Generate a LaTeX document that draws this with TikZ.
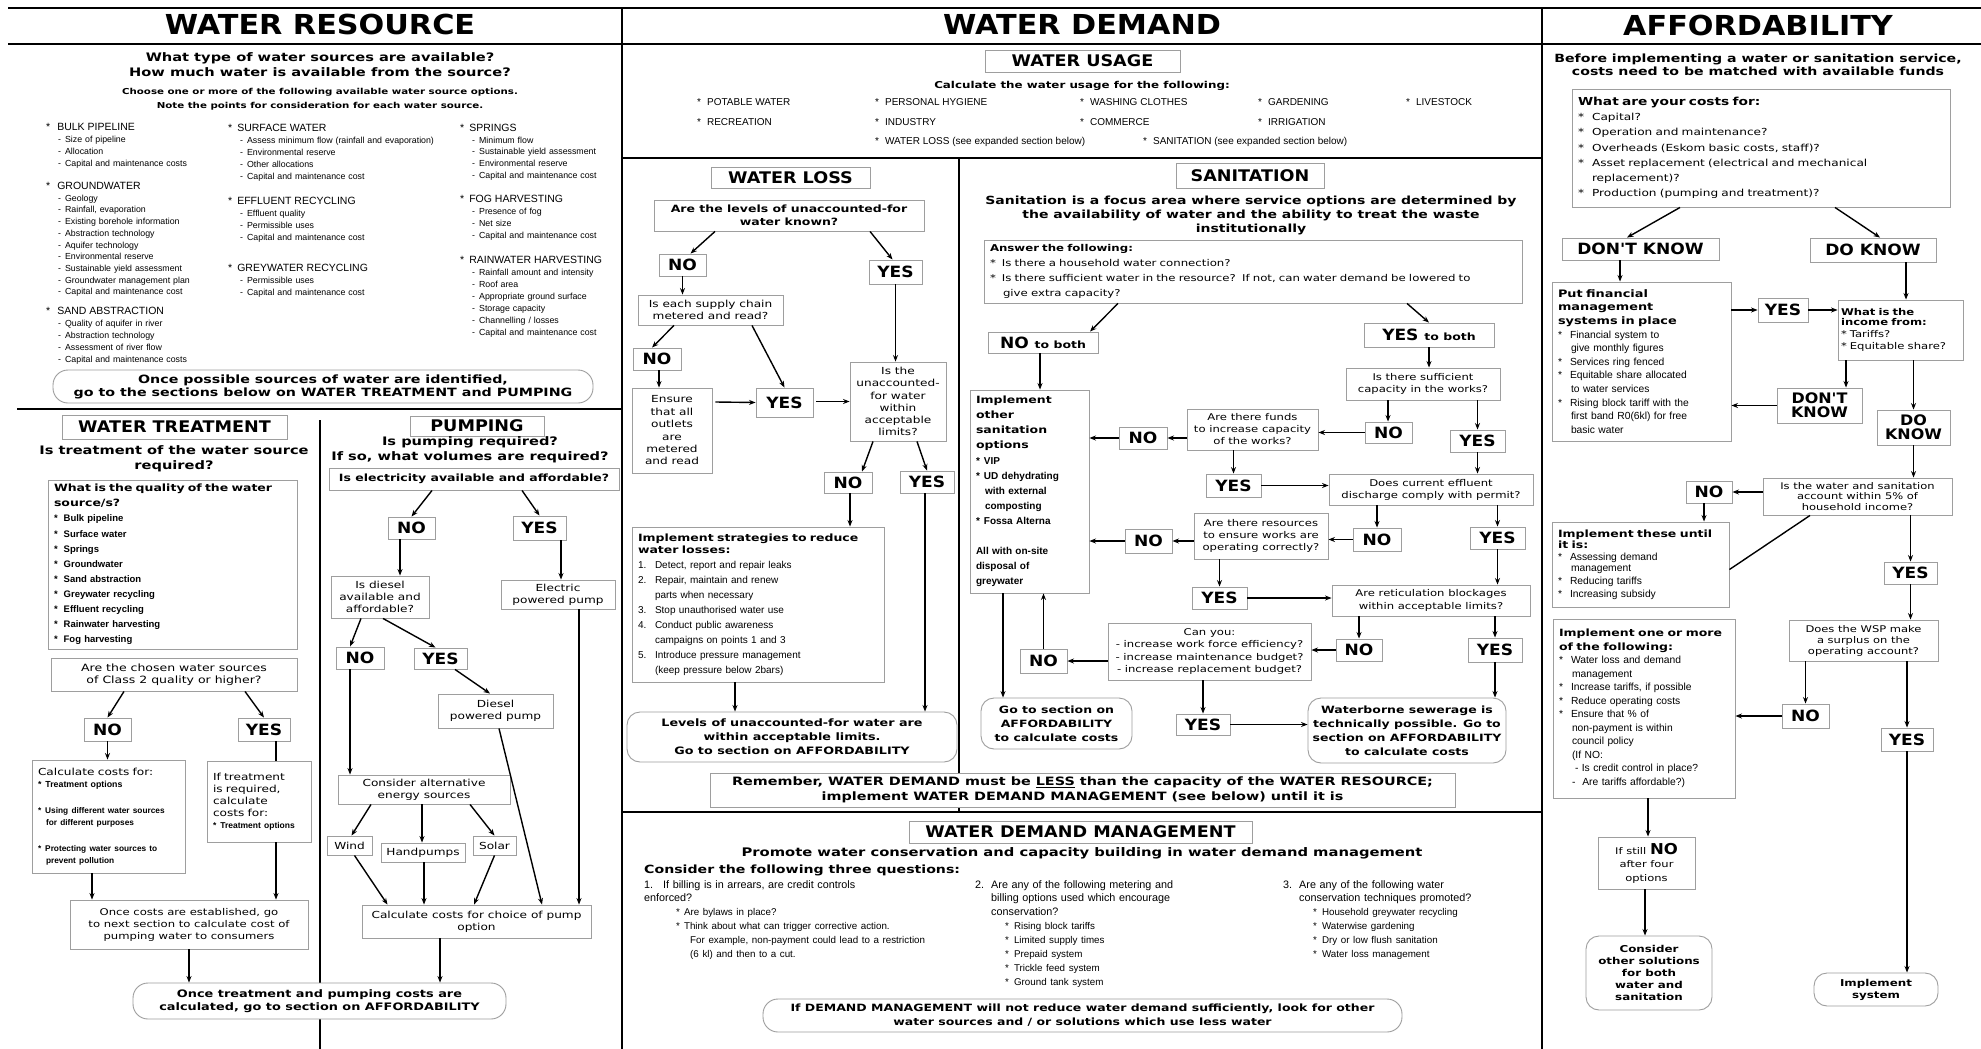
\documentclass[tikz,border=0pt]{standalone}
\usepackage{fontspec}
\setmainfont{Liberation Sans}
\newfontfamily\vdw{DejaVu Sans}[FakeStretch=1.25]
\newfontfamily\vdt{DejaVu Sans}[FakeStretch=1.1]
\usetikzlibrary{arrows.meta}
\definecolor{boxgray}{gray}{0.62}
\newcommand{\fs}[2]{\fontsize{#1}{#2}\selectfont}
% a box given by two corners (x1,y1) (x2,y2)
\newcommand{\bx}[7][]{%
  \pgfmathsetlengthmacro{\bxw}{(#5)-(#3)}%
  \pgfmathsetlengthmacro{\bxh}{(#6)-(#4)}%
  \pgfmathsetlengthmacro{\bxtw}{(#5)-(#3)-12}%
  \pgfmathsetlengthmacro{\bxtn}{(#5)-(#3)-6}%
  \node[box,minimum width=\bxw,minimum height=\bxh,#1] (#2)
    at ({((#3)+(#5))/2},{((#4)+(#6))/2}) {#7};}
\newcommand{\dsh}{\hspace*{12pt}-\hspace{4pt}}
\newcommand{\bu}[1][6pt]{*\hspace{#1}}
\tikzset{
  box/.style={draw=boxgray,line width=0.9pt,fill=white,inner sep=1pt,align=center,
              font=\vdw\fs{9.7}{12}},
  lbox/.style={box,align=left,text width=\bxtw,inner xsep=6pt},
  lboxn/.style={box,align=left,text width=\bxtn,inner xsep=3pt},
  rbox/.style={box,rounded corners=13pt,font=\vdw\bfseries\fs{10}{14}},
  btitle/.style={box,inner sep=0pt,font=\vdt\bfseries\fs{16}{18}},
  yn/.style={box,inner sep=0pt,font=\vdt\bfseries\fs{15.5}{16}},
  yn2/.style={box,inner sep=0pt,font=\vdt\bfseries\fs{14.5}{14}},
  ttl/.style={inner sep=0pt,font=\vdt\bfseries\fs{27.5}{30}},
  subq/.style={inner sep=0pt,align=center,font=\vdw\bfseries\fs{11.7}{15}},
  lst/.style={anchor=north west,inner sep=0pt,text width=220pt,align=left,font=\fs{8.8}{12}},
  usg/.style={anchor=west,inner sep=0pt,font=\fs{10}{12}},
  col/.style={anchor=north west,inner sep=0pt,text width=330pt,align=left,font=\fs{10.8}{13.9}},
  sec/.style={line width=2.2pt},
  arr/.style={line width=1.4pt,-{Stealth[length=6.5pt,width=5pt]}},
  ln/.style={line width=1.4pt},
}
\begin{document}
\begin{tikzpicture}[x=1pt,y=-1pt]
\useasboundingbox (0,0) rectangle (1981,1049);
\fill[white] (0,0) rectangle (1981,1049);

% ---------- frame ----------
\draw[sec] (8,8) -- (1981,8);
\draw[sec] (8,44) -- (1981,44);
\draw[sec] (622,8) -- (622,1049);
\draw[sec] (1542,8) -- (1542,1049);
\draw[sec] (17,409) -- (622,409);
\draw[sec] (622,158) -- (1542,158);
\draw[sec] (622,812) -- (1542,812);
\draw[sec] (959,158) -- (959,812);
\draw[sec] (320,420) -- (320,1049);

\node[ttl] (tres) at (320,24) {WATER RESOURCE};
\node[ttl] (tdem) at (1082,24) {WATER DEMAND};
\node[ttl] (taff) at (1758,25) {AFFORDABILITY};

% ---------- water resource ----------
\node[subq] (wrq) at (320,65) {What type of water sources are available?\\How much water is available from the source?};
\node[inner sep=0pt,align=center,font=\vdw\bfseries\fs{8.2}{14}] (wrc) at (320,99)
  {Choose one or more of the following available water source options.\\Note the points for consideration for each water source.};

\node[lst] (g1) at (46,123) {{\fs{10.5}{12}\bu[7pt]BULK PIPELINE}\\\dsh Size of pipeline\\\dsh Allocation\\\dsh Capital and maintenance costs};
\node[lst,font=\fs{8.8}{11.7}] (g2) at (46,182) {{\fs{10.5}{12}\bu[7pt]GROUNDWATER}\\\dsh Geology\\\dsh Rainfall, evaporation\\\dsh Existing borehole information\\\dsh Abstraction technology\\\dsh Aquifer technology\\\dsh Environmental reserve\\\dsh Sustainable yield assessment\\\dsh Groundwater management plan\\\dsh Capital and maintenance cost};
\node[lst] (g3) at (46,307) {{\fs{10.5}{12}\bu[7pt]SAND ABSTRACTION}\\\dsh Quality of aquifer in river\\\dsh Abstraction technology\\\dsh Assessment of river flow\\\dsh Capital and maintenance costs};
\node[lst] (g4) at (228,124) {{\fs{10.5}{12}\bu[5pt]SURFACE WATER}\\\dsh Assess minimum flow (rainfall and evaporation)\\\dsh Environmental reserve\\\dsh Other allocations\\\dsh Capital and maintenance cost};
\node[lst] (g5) at (228,197) {{\fs{10.5}{12}\bu[5pt]EFFLUENT RECYCLING}\\\dsh Effluent quality\\\dsh Permissible uses\\\dsh Capital and maintenance cost};
\node[lst] (g6) at (228,264) {{\fs{10.5}{12}\bu[5pt]GREYWATER RECYCLING}\\\dsh Permissible uses\\\dsh Capital and maintenance cost};
\node[lst,font=\fs{8.8}{11.7}] (g7) at (460,124) {{\fs{10.5}{12}\bu[5pt]SPRINGS}\\\dsh Minimum flow\\\dsh Sustainable yield assessment\\\dsh Environmental reserve\\\dsh Capital and maintenance cost};
\node[lst] (g8) at (460,195) {{\fs{10.5}{12}\bu[5pt]FOG HARVESTING}\\\dsh Presence of fog\\\dsh Net size\\\dsh Capital and maintenance cost};
\node[lst] (g9) at (460,256) {{\fs{10.5}{12}\bu[5pt]RAINWATER HARVESTING}\\\dsh Rainfall amount and intensity\\\dsh Roof area\\\dsh Appropriate ground surface\\\dsh Storage capacity\\\dsh Channelling / losses\\\dsh Capital and maintenance cost};

\bx[rbox,rounded corners=15pt,font=\vdw\bfseries\fs{11.4}{13}]{wrgo}{53}{370}{593}{403}{Once possible sources of water are identified,\\go to the sections below on WATER TREATMENT and PUMPING}

% ---------- water treatment ----------
\bx[btitle]{wt}{62}{415}{287}{439}{WATER TREATMENT}
\node[subq] (wtq) at (174,459) {Is treatment of the water source\\required?};
\bx[lbox,font=\bfseries\fs{9.5}{15.1}]{wtqual}{48}{480}{297}{649}{{\vdw\fs{10}{14}What is the quality of the water\\source/s?}\\\bu Bulk pipeline\\\bu Surface water\\\bu Springs\\\bu Groundwater\\\bu Sand abstraction\\\bu Greywater recycling\\\bu Effluent recycling\\\bu Rainwater harvesting\\\bu Fog harvesting}
\bx[font=\vdw\fs{10}{12}]{wtc2}{51}{658}{297}{691}{Are the chosen water sources\\of Class 2 quality or higher?}
\bx[yn]{tno}{84}{718}{131}{741}{NO}
\bx[yn]{tyes}{238}{718}{290}{741}{YES}
\bx[lbox]{tcalc}{32}{760}{185}{873}{Calculate costs for:\\{\rmfamily\bfseries\fs{8.8}{12}\bu[4pt]Treatment options}\\[14pt]{\rmfamily\bfseries\fs{8.3}{12}\bu[4pt]Using different water sources\\\hspace*{8pt}for different purposes}\\[14pt]{\rmfamily\bfseries\fs{8.3}{12}\bu[4pt]Protecting water sources to\\\hspace*{8pt}prevent pollution}}
\bx[lbox]{tif}{207}{761}{311}{842}{If treatment\\is required,\\calculate\\costs for:\\{\rmfamily\bfseries\fs{8.5}{12}\bu[4pt]Treatment options}}
\bx[font=\vdw\fs{9.3}{12}]{tonce}{70}{900}{308}{949}{Once costs are established, go\\to next section to calculate cost of\\pumping water to consumers}
\bx[rbox,rounded corners=15pt,font=\vdw\bfseries\fs{10.3}{13}]{fin}{133}{983}{506}{1019}{Once treatment and pumping costs are\\calculated, go to section on AFFORDABILITY}

\draw[arr] ([xshift=-50]wtc2.south) -- (tno.north);
\draw[arr] ([xshift=71]wtc2.south) -- (tyes.north);
\draw[arr] (tno.south) -- ([xshift=-1]tcalc.north);
\draw[ln]  ([xshift=12]tyes.south) -- ([xshift=17]tif.north);
\draw[arr] ([xshift=-16.5]tcalc.south) -- ([xshift=-97]tonce.north);
\draw[arr] ([xshift=17]tif.south) -- ([xshift=87]tonce.north);
\draw[arr] (tonce.south) -- ([xshift=-130.5]fin.north);

% ---------- pumping ----------
\bx[btitle]{pt}{410}{416}{544}{436}{PUMPING}
\node[subq] (ptq) at (470,450) {Is pumping required?\\If so, what volumes are required?};
\bx[font=\vdw\bfseries\fs{10}{12}]{pe}{329}{468}{619}{490}{Is electricity available and affordable?}
\bx[yn]{pno}{388}{517}{435}{539}{NO}
\bx[yn]{pyes}{513}{516}{566}{540}{YES}
\bx{pd}{331}{576}{429}{618}{Is diesel\\available and\\affordable?}
\bx{pel}{501}{580}{615}{609}{Electric\\powered pump}
\bx[yn]{pdno}{336}{647}{384}{669}{NO}
\bx[yn]{pdyes}{414}{648}{467}{669}{YES}
\bx{pdp}{438}{694}{553}{728}{Diesel\\powered pump}
\bx{pcons}{338}{775}{510}{804}{Consider alternative\\energy sources}
\bx{pw}{327}{836}{372}{855}{Wind}
\bx{ph}{381}{843}{465}{862}{Handpumps}
\bx{ps}{473}{836}{516}{855}{Solar}
\bx{pcalc}{362}{905}{591}{938}{Calculate costs for choice of pump\\option}

\draw[arr] ([xshift=-42]pe.south) -- (pno.north);
\draw[arr] ([xshift=48]pe.south) -- (pyes.north);
\draw[arr] ([xshift=-11.5]pno.south) -- ([xshift=20]pd.north);
\draw[arr] ([xshift=21.5]pyes.south) -- ([xshift=3]pel.north);
\draw[arr] ([xshift=-19]pd.south) -- ([xshift=-10]pdno.north);
\draw[arr] ([xshift=3]pd.south) -- ([xshift=-5]pdyes.north);
\draw[arr] ([xshift=14.5]pdyes.south) -- ([xshift=-5.5]pdp.north);
\draw[arr] ([xshift=-10]pdno.south) -- ([xshift=-74]pcons.north);
\draw[arr] ([xshift=-53]pcons.south) -- ([xshift=2]pw.north);
\draw[arr] ([xshift=-2]pcons.south) -- ([xshift=-1]ph.north);
\draw[arr] ([xshift=46]pcons.south) -- (ps.north);
\draw[arr] ([xshift=5]pw.south) -- ([xshift=-89]pcalc.north);
\draw[arr] ([xshift=1]ph.south) -- ([xshift=-52.5]pcalc.north);
\draw[arr] (ps.south) -- ([xshift=-2.5]pcalc.north);
\draw[arr] ([xshift=3.5]pdp.south) -- ([xshift=65.5]pcalc.north);
\draw[arr] ([xshift=21]pel.south) -- ([xshift=102.5]pcalc.north);
\draw[arr] ([xshift=-36.5]pcalc.south) -- ([xshift=120.5]fin.north);

% ---------- water usage ----------
\bx[btitle]{wu}{985}{50}{1180}{72}{WATER USAGE}
\node[inner sep=0pt,font=\vdw\bfseries\fs{9.5}{12}] (wuq) at (1082,86) {Calculate the water usage for the following:};
\node[usg] (u1) at (697,102) {\bu POTABLE WATER};
\node[usg] (u2) at (875,102) {\bu PERSONAL HYGIENE};
\node[usg] (u3) at (1080,102) {\bu WASHING CLOTHES};
\node[usg] (u4) at (1258,102) {\bu GARDENING};
\node[usg] (u5) at (1406,102) {\bu LIVESTOCK};
\node[usg] (u6) at (697,122) {\bu RECREATION};
\node[usg] (u7) at (875,122) {\bu INDUSTRY};
\node[usg] (u8) at (1080,122) {\bu COMMERCE};
\node[usg] (u9) at (1258,122) {\bu IRRIGATION};
\node[usg] (u10) at (875,142) {\bu WATER LOSS (see expanded section below)};
\node[usg] (u11) at (1143,142) {\bu SANITATION (see expanded section below)};

% ---------- water loss ----------
\bx[btitle]{wl}{711}{167}{870}{188}{WATER LOSS}
\bx[font=\vdw\bfseries\fs{10}{13}]{wlq}{654}{200}{924}{231}{Are the levels of unaccounted-for\\water known?}
\bx[yn]{wlno}{659}{254}{706}{276}{NO}
\bx[yn]{wlyes}{869}{260}{922}{284}{YES}
\bx{wlsc}{638}{295}{783}{325}{Is each supply chain\\metered and read?}
\bx[yn]{wlno2}{633}{348}{681}{370}{NO}
\bx[yn]{wlyes2}{756}{388}{813}{417}{YES}
\bx[font=\vdw\fs{9.7}{12.4}]{wlen}{632}{388}{712}{473}{Ensure\\that all\\outlets\\are\\metered\\and read}
\bx[font=\vdw\fs{9.7}{12.2}]{wllim}{850}{362}{946}{441}{Is the\\unaccounted-\\for water\\within\\acceptable\\limits?}
\bx[yn]{wlno3}{824}{472}{872}{493}{NO}
\bx[yn]{wlyes3}{900}{471}{954}{493}{YES}
\bx[lbox,font=\fs{10}{15}]{wlimp}{632}{527}{884}{682}{{\vdw\bfseries Implement strategies to reduce\\[-3pt]water losses:}\\\makebox[17pt][l]{1.}Detect, report and repair leaks\\\makebox[17pt][l]{2.}Repair, maintain and renew\\\hspace*{17pt}parts when necessary\\\makebox[17pt][l]{3.}Stop unauthorised water use\\\makebox[17pt][l]{4.}Conduct public awareness\\\hspace*{17pt}campaigns on points 1 and 3\\\makebox[17pt][l]{5.}Introduce pressure management\\\hspace*{17pt}(keep pressure below 2bars)}
\bx[rbox,font=\vdw\bfseries\fs{10.2}{14}]{wllev}{627}{712}{957}{762}{Levels of unaccounted-for water are\\within acceptable limits.\\Go to section on AFFORDABILITY}

\draw[arr] ([xshift=-74]wlq.south) -- ([xshift=8]wlno.north);
\draw[arr] ([xshift=81]wlq.south) -- ([xshift=-3]wlyes.north);
\draw[arr] (wlno.south) -- ([xshift=-28]wlsc.north);
\draw[arr] ([xshift=-36.5]wlsc.south) -- ([xshift=-5]wlno2.north);
\draw[arr] ([xshift=41.5]wlsc.south) -- (wlyes2.north);
\draw[arr] ([xshift=2]wlno2.south) -- ([xshift=-13]wlen.north);
\draw[arr] ([xshift=3,yshift=28.5]wlen.east) -- (wlyes2.west);
\draw[arr] ([xshift=3,yshift=1]wlyes2.east) -- (wllim.west);
\draw[arr] (wlyes.south) -- ([xshift=-2.5]wllim.north);
\draw[arr] ([xshift=-25]wllim.south) -- ([xshift=14]wlno3.north);
\draw[arr] ([xshift=19]wllim.south) -- (wlyes3.north);
\draw[arr] ([xshift=2]wlno3.south) -- ([xshift=92]wlimp.north);
\draw[arr] ([xshift=-23]wlimp.south) -- ([xshift=-57]wllev.north);
\draw[arr] ([xshift=-2]wlyes3.south) -- ([xshift=133]wllev.north);

\bx[font=\vdw\bfseries\fs{11.5}{15}]{rem}{710}{773}{1455}{807}{Remember, WATER DEMAND must be \underline{LESS} than the capacity of the WATER RESOURCE;\\implement WATER DEMAND MANAGEMENT (see below) until it is}

% ---------- sanitation ----------
\bx[btitle]{san}{1176}{163}{1324}{188}{SANITATION}
\node[inner sep=0pt,align=center,font=\vdw\bfseries\fs{11.2}{14}] (sanq) at (1251,215)
  {Sanitation is a focus area where service options are determined by\\the availability of water and the ability to treat the waste\\institutionally};
\bx[lbox,font=\vdw\fs{9.4}{15}]{ans}{984}{240}{1522}{303}{{\bfseries Answer the following:}\\\bu Is there a household water connection?\\\bu Is there sufficient water in the resource?\ \ If not, can water demand be lowered to\\\hspace*{13pt}give extra capacity?}
\bx[yn]{nob}{988}{332}{1098}{353}{NO {\vdw\fs{10}{12}to both}}
\bx[yn]{yesb}{1364}{323}{1494}{347}{YES {\vdw\fs{10}{12}to both}}
\bx[lbox,font=\rmfamily\bfseries\fs{10}{15.1},inner xsep=5pt]{sio}{970}{390}{1089}{593}{{\vdw Implement\\other\\sanitation\\options}\\\bu[4pt]VIP\\\bu[4pt]UD dehydrating\\\hspace*{9pt}with external\\\hspace*{9pt}composting\\\bu[4pt]Fossa Alterna\\[15pt]All with on-site\\disposal of\\greywater}
\bx[font=\vdw\fs{9.3}{12}]{scap}{1346}{368}{1500}{400}{Is there sufficient\\capacity in the works?}
\bx[yn]{scno}{1365}{422}{1412}{443}{NO}
\bx[yn]{scyes}{1450}{430}{1505}{452}{YES}
\bx[font=\vdw\fs{9.3}{12}]{sfund}{1187}{409}{1318}{450}{Are there funds\\to increase capacity\\of the works?}
\bx[yn]{sfno}{1119}{427}{1167}{449}{NO}
\bx[yn]{sfyes}{1206}{474}{1261}{497}{YES}
\bx[font=\vdw\fs{9.3}{12}]{seff}{1329}{474}{1533}{505}{Does current effluent\\discharge comply with permit?}
\bx[yn]{seno}{1353}{528}{1401}{551}{NO}
\bx[yn]{seyes}{1470}{527}{1525}{549}{YES}
\bx[font=\vdw\fs{9.3}{12}]{sres}{1194}{513}{1328}{559}{Are there resources\\to ensure works are\\operating correctly?}
\bx[yn]{srno}{1125}{529}{1172}{553}{NO}
\bx[yn]{sryes}{1192}{587}{1247}{609}{YES}
\bx[font=\vdw\fs{9.3}{12.5}]{sret}{1332}{585}{1530}{616}{Are reticulation blockages\\within acceptable limits?}
\bx[yn]{rtno}{1336}{639}{1382}{661}{NO}
\bx[yn]{rtyes}{1468}{638}{1522}{662}{YES}
\bx[font=\vdw\fs{9.3}{12.3}]{scan}{1108}{623}{1311}{680}{Can you:\\- increase work force efficiency?\\- increase maintenance budget?\\- increase replacement budget?}
\bx[yn]{scnno}{1020}{649}{1067}{673}{NO}
\bx[rbox]{sgo}{981}{698}{1132}{749}{Go to section on\\AFFORDABILITY\\to calculate costs}
\bx[yn]{scnyes}{1176}{714}{1230}{735}{YES}
\bx[rbox]{swb}{1308}{698}{1506}{763}{Waterborne sewerage is\\technically possible. Go to\\section on AFFORDABILITY\\to calculate costs}

\draw[arr] ([xshift=-135]ans.south) -- ([xshift=47]nob.north);
\draw[arr] ([xshift=154]ans.south) -- (yesb.north);
\draw[arr] ([xshift=-3]nob.south) -- ([xshift=10.5]sio.north);
\draw[arr] (yesb.south) -- ([xshift=6]scap.north);
\draw[arr] ([xshift=-35]scap.south) -- ([xshift=-0.5]scno.north);
\draw[arr] ([xshift=54.5]scap.south) -- (scyes.north);
\draw[arr] (scno.west) -- ([yshift=-3]sfund.east);
\draw[arr] ([yshift=-8.5]sfund.west) -- (sfno.east);
\draw[arr] (sfno.west) -- ([yshift=53.5]sio.east);
\draw[arr] ([xshift=-19]sfund.south) -- (sfyes.north);
\draw[arr] (sfyes.east) -- ([yshift=4]seff.west);
\draw[arr] (scyes.south) -- ([xshift=46.5]seff.north);
\draw[arr] ([xshift=-54]seff.south) -- (seno.north);
\draw[arr] ([xshift=66.5]seff.south) -- (seyes.north);
\draw[arr] (seno.west) -- ([yshift=-3.5]sres.east);
\draw[arr] ([yshift=-5]sres.west) -- (srno.east);
\draw[arr] (srno.west) -- ([yshift=-49.5]sio.east);
\draw[arr] ([xshift=-41.5]sres.south) -- (sryes.north);
\draw[arr] (sryes.east) -- ([yshift=2.5]sret.west);
\draw[arr] (seyes.south) -- ([xshift=66.5]sret.north);
\draw[arr] ([xshift=-72]sret.south) -- (rtno.north);
\draw[arr] ([xshift=64]sret.south) -- (rtyes.north);
\draw[arr] (rtno.west) -- ([yshift=1.5]scan.east);
\draw[arr] ([yshift=-9.5]scan.west) -- (scnno.east);
\draw[arr] (scnno.north) -- ([xshift=14]sio.south);
\draw[arr] ([xshift=-26.5]sio.south) -- ([xshift=-53.5]sgo.north);
\draw[arr] ([xshift=-6.5]scan.south) -- (scnyes.north);
\draw[arr] (scnyes.east) -- ([yshift=6]swb.west);
\draw[arr] (rtyes.south) -- ([xshift=88]swb.north);

% ---------- water demand management ----------
\bx[btitle]{wdm}{909}{821}{1252}{843}{WATER DEMAND MANAGEMENT}
\node[inner sep=0pt,font=\vdw\bfseries\fs{11.8}{14}] (wdmq) at (1082,853) {Promote water conservation and capacity building in water demand management};
\node[anchor=west,inner sep=0pt,font=\vdw\bfseries\fs{11.3}{14}] (wdmc) at (644,870) {Consider the following three questions:};
\node[col] (wq1) at (644,880) {\makebox[19pt][l]{1.}If billing is in arrears, are credit controls\\enforced?\\{\fs{9.8}{13.9}\hspace*{32pt}\bu[4pt]Are bylaws in place?\\\hspace*{32pt}\bu[4pt]Think about what can trigger corrective action.\\\hspace*{46pt}For example, non-payment could lead to a restriction\\\hspace*{46pt}(6 kl) and then to a cut.}};
\node[col] (wq2) at (975,880) {\makebox[16pt][l]{2.}Are any of the following metering and\\\hspace*{16pt}billing options used which encourage\\\hspace*{16pt}conservation?\\{\fs{9.8}{13.9}\hspace*{30pt}\bu[5pt]Rising block tariffs\\\hspace*{30pt}\bu[5pt]Limited supply times\\\hspace*{30pt}\bu[5pt]Prepaid system\\\hspace*{30pt}\bu[5pt]Trickle feed system\\\hspace*{30pt}\bu[5pt]Ground tank system}};
\node[col] (wq3) at (1283,880) {\makebox[16pt][l]{3.}Are any of the following water\\\hspace*{16pt}conservation techniques promoted?\\{\fs{9.8}{13.9}\hspace*{30pt}\bu[5pt]Household greywater recycling\\\hspace*{30pt}\bu[5pt]Waterwise gardening\\\hspace*{30pt}\bu[5pt]Dry or low flush sanitation\\\hspace*{30pt}\bu[5pt]Water loss management}};
\bx[rbox,rounded corners=15pt]{wdmif}{763}{999}{1402}{1032}{If DEMAND MANAGEMENT will not reduce water demand sufficiently, look for other\\water sources and / or solutions which use less water}

% ---------- affordability ----------
\node[inner sep=0pt,align=center,font=\vdw\bfseries\fs{11.3}{13.5}] (affq) at (1758,65) {Before implementing a water or sanitation service,\\costs need to be matched with available funds};
\bx[lbox,font=\vdw\fs{9.7}{15.2}]{acost}{1572}{89}{1950}{207}{{\bfseries\fs{11}{15}What are your costs for:}\\\bu[8pt]Capital?\\\bu[8pt]Operation and maintenance?\\\bu[8pt]Overheads (Eskom basic costs, staff)?\\\bu[8pt]Asset replacement (electrical and mechanical\\\hspace*{14pt}replacement)?\\\bu[8pt]Production (pumping and treatment)?}
\bx[yn]{adk}{1562}{238}{1719}{260}{DON'T KNOW}
\bx[yn]{adok}{1810}{238}{1936}{262}{DO KNOW}
\bx[lbox,font=\rmfamily\fs{10.3}{13.6}]{afin}{1552}{282}{1731}{441}{{\vdw\bfseries Put financial\\management\\systems in place}\\\bu[8pt]Financial system to\\\hspace*{13pt}give monthly figures\\\bu[8pt]Services ring fenced\\\bu[8pt]Equitable share allocated\\\hspace*{13pt}to water services\\\bu[8pt]Rising block tariff with the\\\hspace*{13pt}first band R0(6kl) for free\\\hspace*{13pt}basic water}
\bx[yn]{afyes}{1758}{298}{1808}{322}{YES}
\bx[lboxn,font=\vdw\fs{9.3}{12}]{ainc}{1838}{300}{1963}{360}{{\bfseries What is the\\[-2pt]income from:}\\\bu[3pt]Tariffs?\\\bu[3pt]Equitable share?}
\bx[yn2]{adk2}{1777}{388}{1862}{423}{DON'T\\KNOW}
\bx[yn2]{adok2}{1877}{410}{1950}{445}{DO\\KNOW}
\bx[font=\vdw\fs{9.2}{10.6}]{a5}{1763}{478}{1952}{515}{Is the water and sanitation\\account within 5\% of\\household income?}
\bx[yn]{a5no}{1686}{481}{1732}{503}{NO}
\bx[lbox,font=\rmfamily\fs{10.3}{12.8}]{aimp}{1552}{522}{1729}{607}{{\vdw\bfseries\fs{10}{12.8}Implement these until\\[-2pt]it is:}\\\bu[8pt]Assessing demand\\[-2pt]\hspace*{13pt}management\\\bu[8pt]Reducing tariffs\\\bu[8pt]Increasing subsidy}
\bx[yn]{a5yes}{1884}{562}{1937}{584}{YES}
\bx[font=\vdw\fs{9.2}{11}]{awsp}{1789}{620}{1938}{661}{Does the WSP make\\a surplus on the\\operating account?}
\bx[yn]{awno}{1782}{704}{1829}{728}{NO}
\bx[yn]{awyes}{1881}{728}{1933}{751}{YES}
\bx[lbox,font=\rmfamily\fs{10.3}{13.5}]{aone}{1553}{619}{1735}{798}{{\vdw\bfseries\fs{10}{13.5}Implement one or more\\of the following:}\\\bu[8pt]Water loss and demand\\\hspace*{13pt}management\\\bu[8pt]Increase tariffs, if possible\\\bu[8pt]Reduce operating costs\\\bu[8pt]Ensure that \% of\\\hspace*{13pt}non-payment is within\\\hspace*{13pt}council policy\\\hspace*{13pt}(If NO:\\\hspace*{16pt}- Is credit control in place?\\\hspace*{13pt}-\ \ Are tariffs affordable?)}
\bx[font=\vdw\fs{9.2}{13.5}]{astill}{1598}{837}{1695}{889}{If still {\vdt\bfseries\fs{15}{13.5}NO}\\after four\\options}
\bx[rbox,font=\vdw\bfseries\fs{9.5}{12.2}]{acons}{1586}{936}{1712}{1010}{Consider\\other solutions\\for both\\water and\\sanitation}
\bx[rbox,font=\vdw\bfseries\fs{9.5}{12}]{asys}{1814}{973}{1938}{1006}{Implement\\system}

\draw[arr] ([xshift=-81]acost.south) -- ([xshift=-13.5]adk.north);
\draw[arr] ([xshift=74]acost.south) -- ([xshift=7]adok.north);
\draw[arr] ([xshift=-20.5]adk.south) -- ([xshift=-21.5]afin.north);
\draw[arr] ([yshift=51.5]afin.east) -- (afyes.west);
\draw[arr] (afyes.east) -- ([yshift=20]ainc.west);
\draw[arr] ([xshift=33]adok.south) -- ([xshift=5.5]ainc.north);
\draw[arr] ([xshift=-54.5]ainc.south) -- ([xshift=26.5]adk2.north);
\draw[arr] ([xshift=13]ainc.south) -- (adok2.north);
\draw[arr] (adk2.west) -- ([yshift=-44]afin.east);
\draw[arr] (adok2.south) -- ([xshift=56]a5.north);
\draw[arr] ([yshift=4.5]a5.west) -- (a5no.east);
\draw[arr] ([xshift=-5]a5no.south) -- ([xshift=63.5]aimp.north);
\draw[ln]  ([yshift=-5]aimp.east) -- ([xshift=-47.5]a5.south);
\draw[arr] ([xshift=53]a5.south) -- (a5yes.north);
\draw[arr] (a5yes.south) -- ([xshift=47]awsp.north);
\draw[arr] ([xshift=-58]awsp.south) -- (awno.north);
\draw[arr] ([xshift=43.5]awsp.south) -- (awyes.north);
\draw[arr] (awno.west) -- ([yshift=-7.5]aone.east);
\draw[arr] ([xshift=4]aone.south) -- ([xshift=1.5]astill.north);
\draw[arr] ([xshift=-1.5]astill.south) -- ([xshift=-4]acons.north);
\draw[arr] (awyes.south) -- ([xshift=31]asys.north);
\end{tikzpicture}
\end{document}
